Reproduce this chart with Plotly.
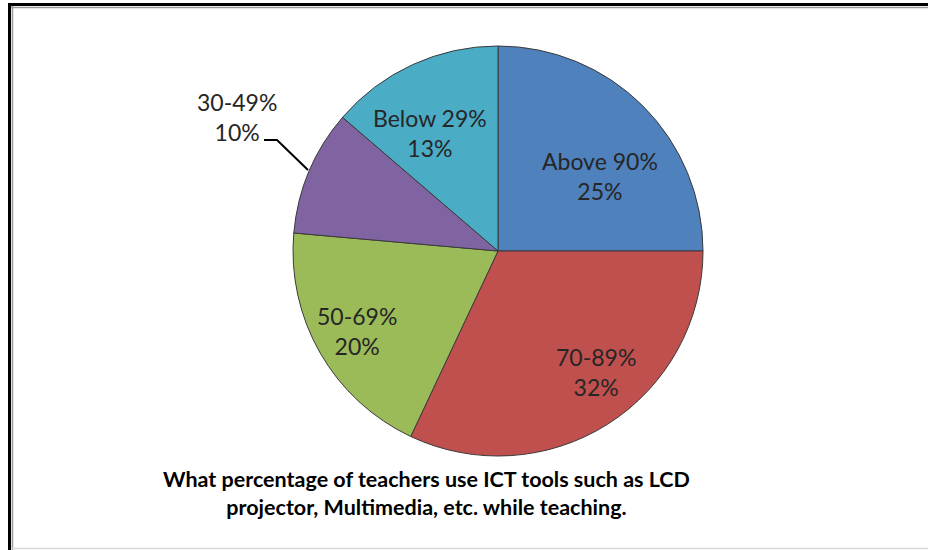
import plotly.graph_objects as go

# ---- data ----
categories = ["Above 90%", "70-89%", "50-69%", "30-49%", "Below 29%"]
values = [25.0, 32.0, 19.4, 9.9, 13.7]          # slice sizes
label_pct = [25, 32, 20, 10, 13]                # percentages printed on the chart
colors = ["#4F81BD", "#C0504D", "#9BBB59", "#8064A2", "#4BACC6"]
title_lines = ["What percentage of teachers use ICT tools such as LCD",
               "projector, Multimedia, etc. while teaching."]

W, H = 928, 550


def px(x):
    return x / W


def py(y):
    return 1 - y / H


# label anchor positions in pixels (layout only)
label_pos = [(600, 176), (596, 372), (357, 331), (237, 117), (430, 133)]

fig = go.Figure(go.Pie(
    labels=categories,
    values=values,
    sort=False,
    direction="clockwise",
    rotation=0,
    marker=dict(colors=colors, line=dict(color="#3a3a3a", width=1)),
    textinfo="none",
    hoverinfo="label+percent",
    showlegend=False,
    domain=dict(x=[px(293), px(703)], y=[py(456), py(46)]),
))

annotations = []
for cat, pct, (x, y) in zip(categories, label_pct, label_pos):
    annotations.append(dict(
        x=px(x), y=py(y), xref="paper", yref="paper",
        text=f"{cat}<br>{pct}%", showarrow=False,
        font=dict(family="Lato", size=23, color="#262626"),
        align="center", xanchor="center", yanchor="middle",
    ))

annotations.append(dict(
    x=px(426.5), y=py(493), xref="paper", yref="paper",
    text="<b>" + "<br>".join(title_lines) + "</b>", showarrow=False,
    font=dict(family="Lato", size=21.5, color="#000000"),
    align="center", xanchor="center", yanchor="middle",
))

shapes = [
    # leader line for 30-49%
    dict(type="path", xref="paper", yref="paper",
         path=f"M {px(264)},{py(140)} L {px(277)},{py(140)} L {px(308)},{py(170)}",
         line=dict(color="#000000", width=2)),
    # frame: black outer
    dict(type="line", xref="paper", yref="paper", x0=px(8), x1=1, y0=py(4.5), y1=py(4.5),
         line=dict(color="#000000", width=3)),
    dict(type="line", xref="paper", yref="paper", x0=px(9.5), x1=px(9.5), y0=py(3), y1=0,
         line=dict(color="#000000", width=3)),
    # inner gray
    dict(type="line", xref="paper", yref="paper", x0=px(11), x1=1, y0=py(7.5), y1=py(7.5),
         line=dict(color="#9a9a9a", width=1.5)),
    dict(type="line", xref="paper", yref="paper", x0=px(12.5), x1=px(12.5), y0=py(6), y1=0,
         line=dict(color="#9a9a9a", width=1.5)),
    # bottom light gray
    dict(type="line", xref="paper", yref="paper", x0=px(11), x1=1, y0=py(548.5), y1=py(548.5),
         line=dict(color="#d9d9d9", width=1.5)),
]

fig.update_layout(
    width=W, height=H,
    margin=dict(l=0, r=0, t=0, b=0),
    paper_bgcolor="white", plot_bgcolor="white",
    annotations=annotations, shapes=shapes,
)

fig.write_html("out.html",
               config={"displayModeBar": False},
               post_script="document.body.style.margin='0';document.body.style.overflow='hidden';")
